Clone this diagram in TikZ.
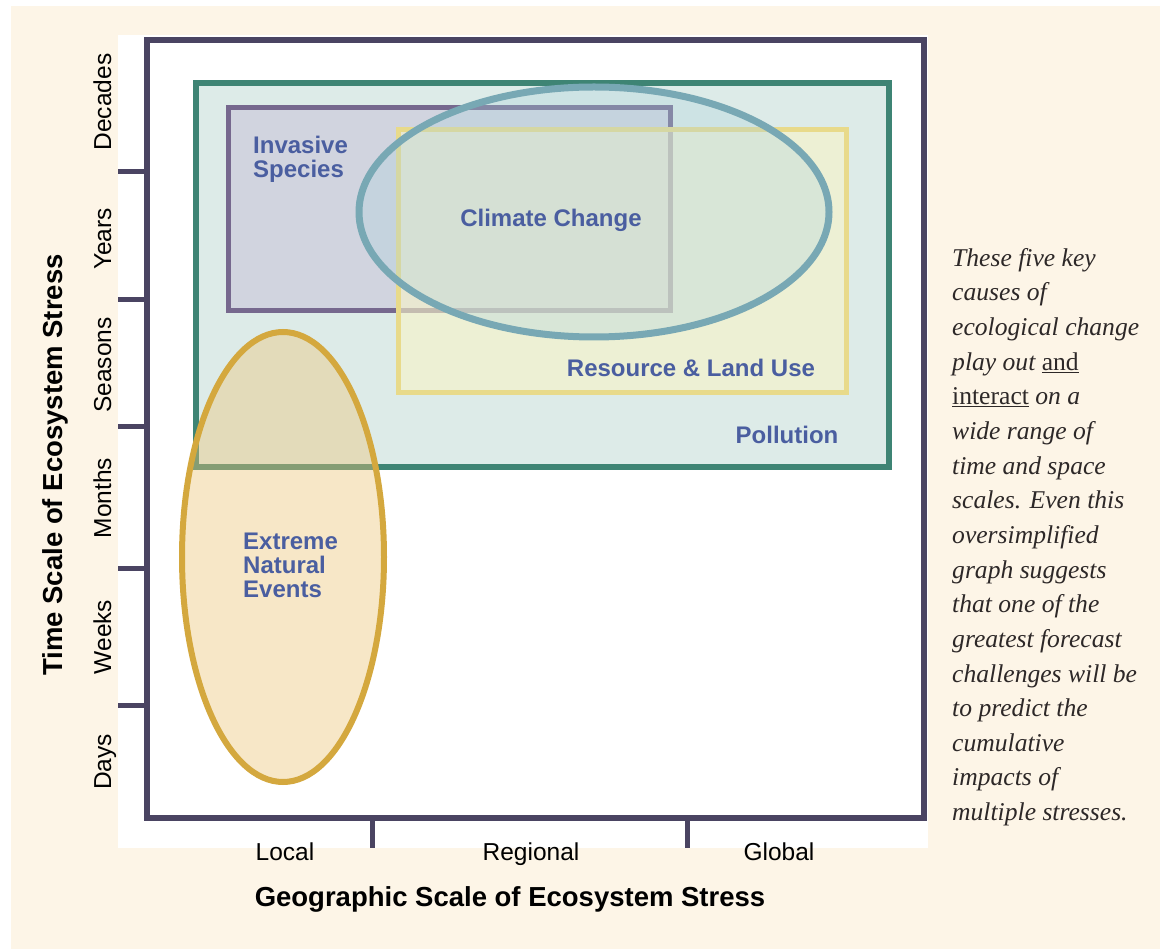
\documentclass[tikz,border=0pt]{standalone}
\usepackage{fontspec}
\setmainfont{Liberation Sans}
\newfontfamily\notefont{Liberation Serif}
\definecolor{cream}{RGB}{253,245,231}
\definecolor{framec}{RGB}{74,68,98}
\definecolor{pollc}{RGB}{62,132,116}
\definecolor{pollfill}{RGB}{221,235,232}
\definecolor{invc}{RGB}{118,104,142}
\definecolor{invfill}{RGB}{201,198,218}
\definecolor{resc}{RGB}{232,218,138}
\definecolor{resfill}{RGB}{248,244,200}
\definecolor{climc}{RGB}{120,168,180}
\definecolor{climfill}{RGB}{170,210,222}
\definecolor{extc}{RGB}{212,168,62}
\definecolor{extfill}{RGB}{237,195,117}
\definecolor{lblblue}{RGB}{74,94,160}
\definecolor{notec}{RGB}{45,40,40}
\tikzset{
  frameline/.style={line width=6pt, draw=framec, line cap=rect},
  tickline/.style={line width=5pt, draw=framec},
  lbl/.style={font=\fontsize{24}{24}\selectfont\bfseries, text=lblblue, inner sep=0pt},
  axlbl/.style={font=\fontsize{24.5}{25}\selectfont, text=black, inner sep=0pt},
  axtitle/.style={font=\fontsize{27.5}{28}\selectfont\bfseries, text=black, inner sep=0pt},
}
\begin{document}
\begin{tikzpicture}[x=1pt,y=-1pt]
\useasboundingbox (0,0) rectangle (1160,949);
\fill[white] (0,0) rectangle (1160,949);
\fill[cream] (11,6) rectangle (1160,949);
\fill[white] (118,35) rectangle (928,848);
% pollution
\filldraw[fill=pollfill, draw=pollc, line width=6pt] (196,83) rectangle (889,467);
% invasive species
\filldraw[fill=invfill, fill opacity=0.6, draw=invc, line width=5pt] (228,108) rectangle (670,311);
% resource and land use
\filldraw[fill=resfill, fill opacity=0.6, draw=resc, line width=5pt] (398,130) rectangle (846,393);
% climate change
\filldraw[fill=climfill, fill opacity=0.3, draw=climc, line width=7pt] (594,212) ellipse [x radius=235, y radius=125];
% extreme natural events
\filldraw[fill=extfill, fill opacity=0.4, draw=extc, line width=6pt] (283,557) ellipse [x radius=101, y radius=225];
% frame
\draw[frameline] (147,818) -- (147,40) -- (924,40) -- (924,818) -- cycle;
\foreach \yy in {172,300,427,568,705} \draw[tickline] (118,\yy) -- (147,\yy);
\foreach \xx in {372,687} \draw[tickline] (\xx,818) -- (\xx,848);
% labels
\node[lbl, anchor=north west, align=left] (inv) at (253,136) {Invasive\\Species};
\node[lbl, anchor=base] (clim) at (551,227) {Climate Change};
\node[lbl, anchor=base] (res) at (691,377) {Resource \& Land Use};
\node[lbl, anchor=base] (poll) at (787,444) {Pollution};
\node[lbl, anchor=north west, align=left] (ext) at (243,533) {Extreme\\Natural\\Events};
% axis labels
\node[axlbl, rotate=90, anchor=base] (ydec) at (111,102) {Decades};
\node[axlbl, rotate=90, anchor=base] (yyea) at (111,239) {Years};
\node[axlbl, rotate=90, anchor=base] (ysea) at (111,365) {Seasons};
\node[axlbl, rotate=90, anchor=base] (ymon) at (111,498) {Months};
\node[axlbl, rotate=90, anchor=base] (ywee) at (111,637) {Weeks};
\node[axlbl, rotate=90, anchor=base] (yday) at (111,762) {Days};
\node[axtitle, rotate=90, anchor=base] (ytitle) at (62,465) {Time Scale of Ecosystem Stress};
\node[axlbl, anchor=base] (xloc) at (285,860) {Local};
\node[axlbl, anchor=base] (xreg) at (531,860) {Regional};
\node[axlbl, anchor=base] (xglo) at (779,860) {Global};
\node[axtitle, anchor=base] (xtitle) at (510,906) {Geographic Scale of Ecosystem Stress};
% note
\node[anchor=north west, inner sep=0pt, align=left, text=notec,
      font=\notefont\itshape\fontsize{25.6}{34.65}\selectfont] (note) at (952,248)
{These five key\\causes of\\ecological change\\play out {\upshape\underline{and}}\\{\upshape\underline{interact}} on a\\wide range of\\time and space\\scales. Even this\\oversimplified\\graph suggests\\that one of the\\greatest forecast\\challenges will be\\to predict the\\cumulative\\impacts of\\multiple stresses.};
\end{tikzpicture}
\end{document}
